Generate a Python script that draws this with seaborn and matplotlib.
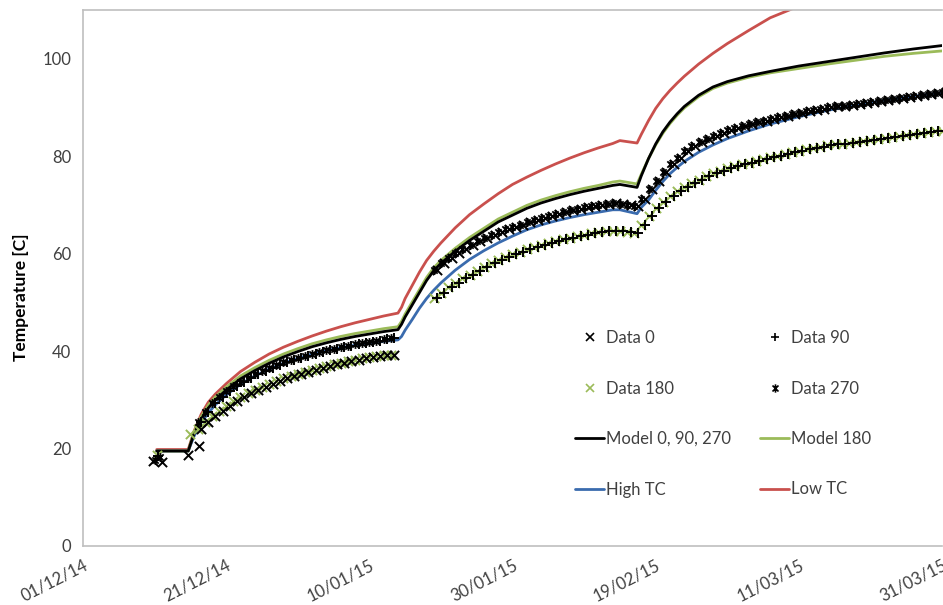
import numpy as np
import pandas as pd
import matplotlib
matplotlib.use("Agg")
import matplotlib.pyplot as plt
import matplotlib.dates as mdates
from matplotlib.path import Path
from matplotlib.lines import Line2D
import seaborn as sns

START = pd.Timestamp("2014-12-01")

# ---- model curves (day offset from 01/12/14) ----
MODEL_DAYS = [10.3, 14.7, 15.5, 16.5, 17.5, 18.5, 20, 22, 24, 26, 28, 30, 32, 34, 36, 38, 40, 42, 44,
              44.5, 45, 46, 47, 48, 49, 50, 52, 54, 56, 58, 60, 62, 64, 66, 68, 70, 72, 74, 75, 77.4,
              78, 79, 80, 81, 82, 83, 84, 86, 88, 90, 93, 96, 100, 104, 108, 112, 116, 120]

MODEL_0_90_270 = [19.5, 19.5, 23.0, 26.0, 28.3, 30.0, 32.0, 34.3, 36.0, 37.5, 38.8, 39.9, 40.9, 41.7, 42.4, 43.0, 43.5, 44.0, 44.4,
                  45.5, 47.0, 49.5, 52.0, 54.5, 56.5, 58.0, 60.5, 62.7, 64.6, 66.5, 67.9, 69.3, 70.4, 71.3, 72.1, 72.8, 73.4, 74.0, 74.2, 73.6,
                  76.0, 79.5, 82.5, 85.0, 87.0, 88.7, 90.2, 92.5, 94.2, 95.3, 96.5, 97.4, 98.5, 99.4, 100.3, 101.2, 102.0, 102.7]

MODEL_180 = [19.5, 19.5, 23.4, 26.5, 28.9, 30.6, 32.6, 34.9, 36.6, 38.1, 39.4, 40.5, 41.5, 42.3, 43.0, 43.6, 44.1, 44.6, 45.0,
             46.1, 47.6, 50.1, 52.6, 55.1, 57.1, 58.6, 61.1, 63.3, 65.2, 67.1, 68.5, 69.9, 71.0, 71.9, 72.7, 73.4, 74.0, 74.7, 74.9, 74.3,
             76.3, 79.5, 82.3, 84.7, 86.7, 88.4, 89.9, 92.2, 93.9, 95.0, 96.2, 97.1, 98.0, 98.9, 99.7, 100.5, 101.1, 101.6]

HIGH_TC = [19.5, 19.5, 22.5, 25.3, 27.3, 29.0, 31.0, 33.2, 34.9, 36.3, 37.5, 38.5, 39.4, 40.1, 40.7, 41.2, 41.6, 42.0, 42.3,
           43.0, 44.3, 46.5, 48.8, 50.8, 52.5, 54.0, 56.6, 58.8, 60.6, 62.2, 63.6, 64.9, 65.9, 66.7, 67.4, 68.0, 68.5, 69.0, 69.0, 68.2,
           69.5, 71.0, 73.0, 74.8, 76.4, 77.7, 78.9, 80.8, 82.3, 83.6, 85.2, 86.6, 88.1, 89.4, 90.5, 91.5, 92.3, 93.0]

LOW_TC = [19.8, 19.8, 23.5, 27.0, 29.5, 31.2, 33.3, 35.8, 37.7, 39.4, 40.8, 42.0, 43.1, 44.1, 45.0, 45.8, 46.5, 47.2, 47.8,
          49.0, 50.8, 53.5, 56.2, 58.6, 60.5, 62.2, 65.3, 68.0, 70.2, 72.3, 74.2, 75.7, 77.1, 78.4, 79.6, 80.7, 81.7, 82.6, 83.2, 82.7,
          84.5, 87.3, 89.8, 91.8, 93.5, 95.0, 96.4, 98.9, 101.1, 103.1, 105.8, 108.4, 110.8, 112.9, 114.7, 116.3, 117.7, 118.9]

# ---- measured temperatures, daily readings per heating stage ----
STAGE1_DAYS = np.arange(16, 44)
STAGE2_DAYS = np.arange(49, 78)
STAGE3_DAYS = np.arange(78, 121)

UPPER_1 = [25.4, 27.6, 29.3, 30.6, 31.8, 32.8, 33.7, 34.5, 35.3, 36.0, 36.6, 37.2, 37.7, 38.2,
           38.6, 39.0, 39.4, 39.8, 40.2, 40.5, 40.8, 41.1, 41.4, 41.7, 41.9, 42.1, 42.4, 42.6]
LOWER_1 = [24.0, 25.4, 26.7, 27.8, 28.8, 29.7, 30.5, 31.3, 32.0, 32.7, 33.3, 33.9, 34.4, 34.9,
           35.4, 35.8, 36.2, 36.6, 37.0, 37.3, 37.6, 37.9, 38.2, 38.5, 38.7, 38.9, 39.1, 39.3]
UPPER_2 = [56.6, 58.0, 59.2, 60.2, 61.0, 61.8, 62.5, 63.2, 63.9, 64.5, 65.0, 65.4, 65.9, 66.4, 66.9,
           67.3, 67.7, 68.1, 68.5, 68.9, 69.2, 69.5, 69.8, 70.0, 70.2, 70.3, 70.2, 70.0, 69.8]
LOWER_2 = [50.8, 52.0, 53.1, 54.0, 54.9, 55.7, 56.5, 57.3, 58.0, 58.7, 59.3, 59.9, 60.4, 60.9, 61.4,
           61.8, 62.2, 62.6, 63.0, 63.3, 63.6, 63.9, 64.2, 64.4, 64.6, 64.7, 64.6, 64.4, 64.2]
UPPER_3 = [71.2, 73.2, 75.0, 76.8, 78.3, 79.7, 81.0, 82.0, 82.9, 83.6, 84.2, 84.8, 85.3, 85.8, 86.2,
           86.6, 87.0, 87.3, 87.7, 88.0, 88.3, 88.6, 88.9, 89.2, 89.5, 89.7, 90.0, 90.2, 90.4, 90.6,
           90.8, 91.0, 91.2, 91.4, 91.6, 91.8, 92.0, 92.2, 92.4, 92.6, 92.8, 93.0, 93.2]
LOWER_3 = [65.8, 67.8, 69.3, 70.6, 71.8, 72.8, 73.6, 74.4, 75.2, 75.9, 76.5, 77.0, 77.5, 77.9, 78.3,
           78.7, 79.1, 79.5, 79.8, 80.1, 80.5, 80.8, 81.1, 81.4, 81.7, 81.9, 82.2, 82.4, 82.6, 82.8,
           83.0, 83.2, 83.4, 83.6, 83.8, 84.0, 84.2, 84.4, 84.6, 84.8, 84.9, 85.1, 85.2]

# first readings before heating starts
PRE_0_DAYS, PRE_0 = [9.8, 11.0, 14.7, 16.2], [17.4, 17.2, 18.7, 20.5]
PRE_90_DAYS, PRE_90 = [10.5], [18.4]
PRE_180_DAYS, PRE_180 = [10.4, 15.0], [18.6, 23.0]
PRE_270_DAYS, PRE_270 = [10.0, 10.8], [17.6, 18.2]

X_TICK_DAYS = [0, 20, 40, 60, 80, 100, 120]
Y_TICKS = [0, 20, 40, 60, 80, 100]

BLACK = "#000000"
GREEN = "#9BBB59"
BLUE = "#3A6BAE"
RED = "#C9504D"


def to_dates(days):
    return START + pd.to_timedelta(np.asarray(days, dtype=float), unit="D")


def series(parts):
    d = np.concatenate([np.asarray(p[0], dtype=float) for p in parts])
    v = np.concatenate([np.asarray(p[1], dtype=float) for p in parts])
    return pd.DataFrame({"date": to_dates(d), "temp": v})


data_0 = series([(PRE_0_DAYS, PRE_0), (STAGE1_DAYS + 0.5, LOWER_1),
                 (STAGE2_DAYS + 0.5, UPPER_2), (STAGE3_DAYS + 0.5, UPPER_3)])
data_90 = series([(PRE_90_DAYS, PRE_90), (STAGE1_DAYS + 0.5, UPPER_1),
                  (STAGE2_DAYS + 0.5, LOWER_2), (STAGE3_DAYS + 0.5, LOWER_3)])
data_180 = series([(PRE_180_DAYS, PRE_180), (STAGE1_DAYS, LOWER_1),
                   (STAGE2_DAYS, LOWER_2), (STAGE3_DAYS, LOWER_3)])
data_270 = series([(PRE_270_DAYS, PRE_270), (STAGE1_DAYS, UPPER_1),
                   (STAGE2_DAYS, UPPER_2), (STAGE3_DAYS, UPPER_3)])

models = pd.DataFrame({"date": to_dates(MODEL_DAYS),
                       "m0": MODEL_0_90_270, "m180": MODEL_180,
                       "high": HIGH_TC, "low": LOW_TC})

sns.set_theme(style="white")
plt.rcParams["font.family"] = ["Lato", "DejaVu Sans"]

fig = plt.figure(figsize=(9.43, 6.05), dpi=100)
ax = fig.add_axes([83 / 943, 59 / 605, 859 / 943, 536 / 605])

# asterisk-like marker: vertical bar plus a cross
star = Path([(0, -1), (0, 1), (-0.72, -0.72), (0.72, 0.72), (-0.72, 0.72), (0.72, -0.72)],
            [Path.MOVETO, Path.LINETO, Path.MOVETO, Path.LINETO, Path.MOVETO, Path.LINETO])

lw = 2.0
for col, color in [("low", RED), ("high", BLUE), ("m180", GREEN), ("m0", BLACK)]:
    sns.lineplot(data=models, x="date", y=col, color=color, linewidth=lw,
                 sort=False, estimator=None, ax=ax, zorder=2)

mk = dict(s=44, linewidths=1.4, zorder=3, ax=ax, legend=False)
sns.scatterplot(data=data_180, x="date", y="temp", marker="x", color=GREEN, **mk)
sns.scatterplot(data=data_90, x="date", y="temp", marker="+", color=BLACK, **mk)
sns.scatterplot(data=data_0, x="date", y="temp", marker="x", color=BLACK, **mk)
# the asterisk is pure line art, so its stroke colour has to be given explicitly
sns.scatterplot(data=data_270, x="date", y="temp", marker=star, color=BLACK,
                edgecolor=BLACK, s=40, linewidths=1.3, zorder=3, ax=ax, legend=False)

ax.set_xlim(to_dates([0])[0], to_dates([120])[0])
ax.set_ylim(0, 110)
ax.set_xticks(to_dates(X_TICK_DAYS))
ax.xaxis.set_major_formatter(mdates.DateFormatter("%d/%m/%y"))
ax.set_yticks(Y_TICKS)

gray = "#BFBFBF"
for side in ["left", "bottom", "top"]:
    ax.spines[side].set_color(gray)
    ax.spines[side].set_linewidth(1.2)
ax.spines["right"].set_visible(False)
ax.tick_params(axis="both", which="major", direction="out", length=5, width=1.2,
               color=gray, labelcolor="#404040", labelsize=12)
ax.tick_params(axis="x", pad=3)
for lab in ax.get_xticklabels():
    lab.set_rotation(27)
    lab.set_ha("right")
    lab.set_va("top")
    lab.set_rotation_mode("anchor")

ax.set_xlabel("")
ax.set_ylabel("Temperature [C]", fontsize=12.5, fontweight="bold", color="#000000")
ax.yaxis.set_label_coords(-0.063, 0.465)

def mline(color):
    return Line2D([], [], color=color, linewidth=lw)

def mmark(marker, color):
    return Line2D([], [], linestyle="none", marker=marker, color=color,
                  markeredgecolor=color, markersize=6, markeredgewidth=1.2)

leg_kw = dict(frameon=False, fontsize=12, handlelength=1.75, handletextpad=0.1,
              labelspacing=2.07, borderpad=0, borderaxespad=0, loc="upper left")
left_handles = [mmark("x", BLACK), mmark("x", GREEN), mline(BLACK), mline(BLUE)]
left_labels = ["Data 0", "Data 180", "Model 0, 90, 270", "High TC"]
right_handles = [mmark("+", BLACK), mmark(star, BLACK), mline(GREEN), mline(RED)]
right_labels = ["Data 90", "Data 270", "Model 180", "Low TC"]

leg1 = fig.legend(left_handles, left_labels, bbox_to_anchor=(575 / 943, 1 - 330 / 605), **leg_kw)
leg2 = fig.legend(right_handles, right_labels, bbox_to_anchor=(760 / 943, 1 - 330 / 605), **leg_kw)
for leg in (leg1, leg2):
    for t in leg.get_texts():
        t.set_color("#404040")

fig.savefig("out.png", dpi=100)
